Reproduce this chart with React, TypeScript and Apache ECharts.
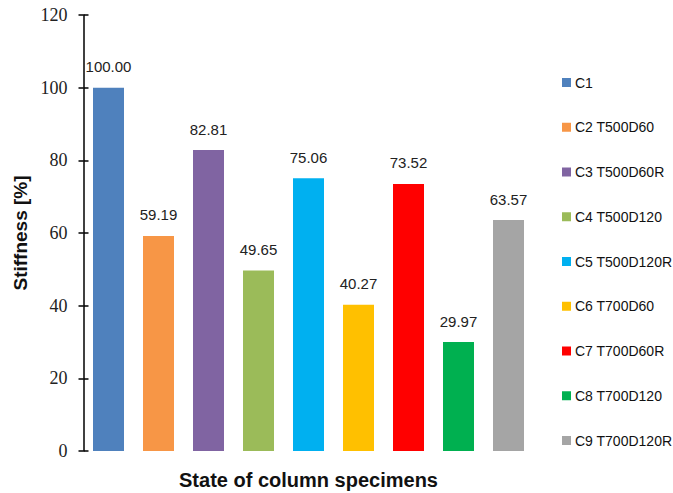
import React, { useEffect, useRef } from "react";
import * as echarts from "echarts";

// Specimen names and their relative stiffness (%)
const specimens = [
  "C1",
  "C2 T500D60",
  "C3 T500D60R",
  "C4 T500D120",
  "C5 T500D120R",
  "C6 T700D60",
  "C7 T700D60R",
  "C8 T700D120",
  "C9 T700D120R",
];
const stiffness = [100.0, 59.19, 82.81, 49.65, 75.06, 40.27, 73.52, 29.97, 63.57];
const barColors = [
  "#4F81BD",
  "#F79646",
  "#8064A2",
  "#9BBB59",
  "#00B0F0",
  "#FFC000",
  "#FF0000",
  "#00B050",
  "#A5A5A5",
];
const yTicks = { min: 0, max: 120, step: 20 };

export default function App() {
  const ref = useRef<HTMLDivElement>(null);

  useEffect(() => {
    if (!ref.current) return;
    const chart = echarts.init(ref.current, null, { renderer: "svg" });

    // one series per specimen so that each gets its own legend entry
    const series = specimens.map((name, i) => ({
      name,
      type: "bar",
      barGap: "-100%",
      barCategoryGap: "38%",
      itemStyle: { color: barColors[i] },
      data: stiffness.map((v, j) => (j === i ? v : "-")),
      label: {
        show: true,
        position: "top",
        distance: 13.5,
        color: "#222",
        fontFamily: "Liberation Sans, Arial, sans-serif",
        fontSize: 15,
        formatter: (p: any) => Number(p.value).toFixed(2),
      },
    }));

    const yBase = {
      type: "value",
      min: yTicks.min,
      max: yTicks.max,
      interval: yTicks.step,
      splitLine: { show: false },
    };

    chart.setOption({
      animation: false,
      backgroundColor: "#fff",
      grid: {
        left: 83.5,
        right: 139.5,
        top: 15,
        bottom: 42,
        containLabel: false,
        outerBoundsMode: "none",
      },
      legend: {
        orient: "vertical",
        left: 557,
        top: 70,
        itemWidth: 9,
        itemHeight: 9,
        itemGap: 29.75,
        icon: "rect",
        selectedMode: false,
        textStyle: {
          fontFamily: "Liberation Sans, Arial, sans-serif",
          fontSize: 14,
          lineHeight: 15,
          color: "#111",
          padding: [0, 0, 0, -1],
        },
        data: specimens,
      },
      xAxis: {
        type: "category",
        data: specimens,
        axisLine: { show: false },
        axisTick: { show: false },
        axisLabel: { show: false },
        name: "State of column specimens",
        nameLocation: "middle",
        nameGap: 19,
        nameTextStyle: {
          fontFamily: "Liberation Sans, Arial, sans-serif",
          fontWeight: "bold",
          fontSize: 20,
          color: "#111",
        },
      },
      yAxis: [
        {
          ...yBase,
          axisLine: { show: true, lineStyle: { color: "#000", width: 1.5 } },
          axisTick: { show: true, length: 5, lineStyle: { color: "#000", width: 1.5 } },
          axisLabel: {
            margin: 16,
            fontFamily: "Liberation Serif, Times New Roman, serif",
            fontSize: 18,
            color: "#222",
          },
          name: "Stiffness [%]",
          nameLocation: "middle",
          nameGap: 50,
          nameTextStyle: {
            fontFamily: "Liberation Sans, Arial, sans-serif",
            fontWeight: "bold",
            fontSize: 19,
            color: "#111",
          },
        },
        {
          // inner half of the crossing tick marks
          ...yBase,
          position: "left",
          axisLine: { show: false },
          axisTick: { show: true, inside: true, length: 5, lineStyle: { color: "#000", width: 1.5 } },
          axisLabel: { show: false },
        },
      ],
      series,
    });

    return () => chart.dispose();
  }, []);

  return (
    <div
      ref={ref}
      style={{ position: "absolute", left: 0, top: 0, width: 673, height: 493 }}
    />
  );
}
